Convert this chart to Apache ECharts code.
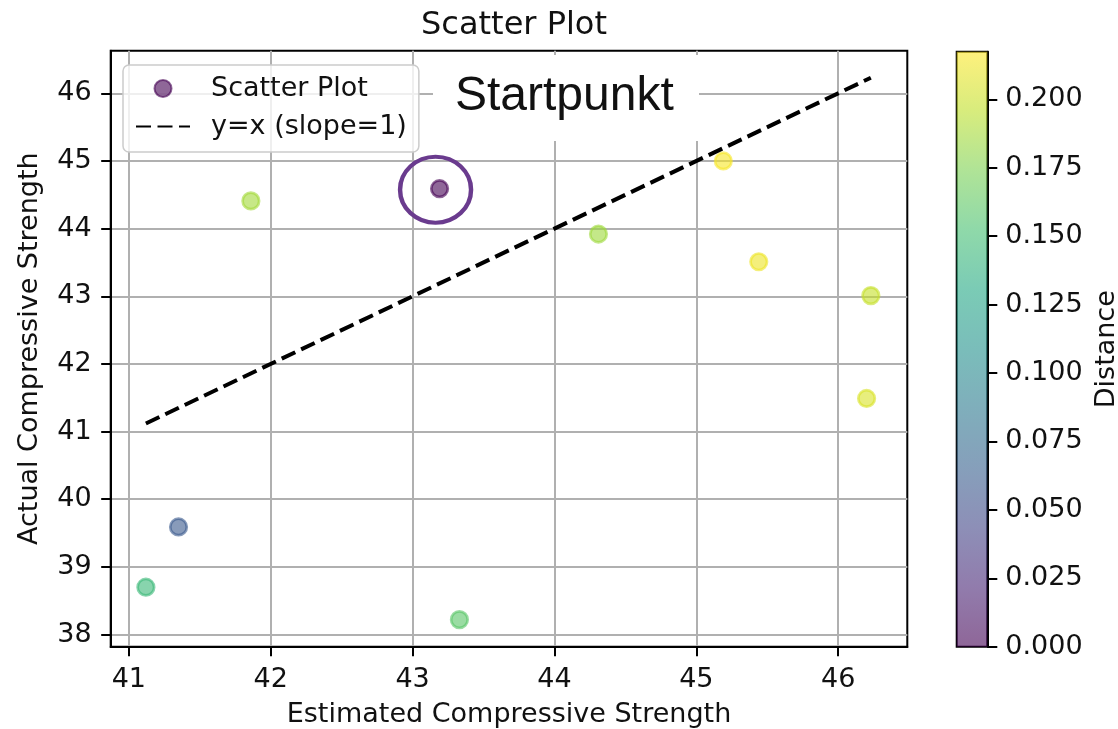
<!DOCTYPE html>
<html><head><meta charset="utf-8">
<script src="https://cdn.jsdelivr.net/npm/echarts@6/dist/echarts.min.js"></script>
<style>html,body{margin:0;padding:0;background:#fff}#c{width:1118px;height:729px}</style>
</head><body><div id="c"></div>
<script>
// ---- data ----
const estimated = [43.19, 41.86, 44.31, 45.19, 45.44, 46.23, 46.20, 41.35, 41.12, 43.33];
const actual    = [44.59, 44.41, 43.92, 45.00, 43.51, 43.01, 41.49, 39.59, 38.70, 38.22];
const distance  = [0.000, 0.187, 0.185, 0.215, 0.212, 0.198, 0.205, 0.060, 0.145, 0.160];
const startIndex = 0;
const xTicks = [41, 42, 43, 44, 45, 46];
const yTicks = [38, 39, 40, 41, 42, 43, 44, 45, 46];
const cbTicks = [0, 0.025, 0.05, 0.075, 0.1, 0.125, 0.15, 0.175, 0.2];
const xRange = [40.872, 46.487];
const yRange = [37.82, 46.63];
const cbRange = [0, 0.2174];
const titleText = 'Scatter Plot';
const xName = 'Estimated Compressive Strength';
const yName = 'Actual Compressive Strength';
const cbName = 'Distance';
const scatterName = 'Scatter Plot';
const lineName = 'y=x (slope=1)';
const noteText = 'Startpunkt';

// ---- viridis colormap ----
const viridis = ['#440154','#482475','#414487','#355f8d','#2a788e','#21918c','#22a884','#44bf70','#7ad151','#bddf26','#fde725'];
function hex2rgb(h){return [parseInt(h.substr(1,2),16),parseInt(h.substr(3,2),16),parseInt(h.substr(5,2),16)];}
function cmap(t){
  t = Math.max(0, Math.min(1, t));
  const p = t * (viridis.length - 1);
  const i = Math.min(Math.floor(p), viridis.length - 2);
  const f = p - i;
  const a = hex2rgb(viridis[i]), b = hex2rgb(viridis[i+1]);
  const c = a.map((v,k)=>Math.round(v + (b[k]-v)*f));
  return 'rgb(' + c.join(',') + ')';
}
const norm = v => (v - cbRange[0]) / (cbRange[1] - cbRange[0]);

const FONT = 'DejaVu Sans';
const TXT = '#111';

const scatterData = estimated.map((x, i) => {
  const col = cmap(norm(distance[i]));
  return { value: [x, actual[i], distance[i]], itemStyle: { color: col, borderColor: col } };
});
const lo = Math.min(...estimated), hi = Math.max(...estimated);
const lineData = [[lo, lo], [hi, hi]];

const chart = echarts.init(document.getElementById('c'), null, { renderer: 'canvas' });
chart.setOption({
  backgroundColor: '#fff',
  animation: false,
  title: {
    text: titleText, left: 509, textAlign: 'center', top: 5, padding: 5,
    textStyle: { fontFamily: FONT, fontSize: 32, fontWeight: 'normal', color: TXT }
  },
  grid: [
    { left: 110.7, top: 50.7, right: 210.7, bottom: 82.3, show: true, borderColor: '#000', borderWidth: 2, backgroundColor: 'transparent', containLabel: false, outerBoundsMode: 'none' },
    { left: 956.7, top: 51.7, width: 30.6, height: 595, show: true, borderColor: '#000', borderWidth: 2, backgroundColor: 'transparent', containLabel: false, outerBoundsMode: 'none' }
  ],
  xAxis: [
    {
      type: 'value', gridIndex: 0, min: xRange[0], max: xRange[1],
      name: xName, nameLocation: 'middle', nameGap: 55,
      nameTextStyle: { fontFamily: FONT, fontSize: 27, color: TXT },
      axisLine: { show: true, onZero: false, lineStyle: { color: '#000', width: 2 } },
      axisTick: { show: true, length: 9.5, customValues: xTicks, lineStyle: { color: '#000', width: 2 } },
      axisLabel: { show: true, customValues: xTicks, margin: 20, fontFamily: FONT, fontSize: 27, color: TXT },
      splitLine: { show: true, lineStyle: { color: '#b0b0b0', width: 2 } }
    },
    { type: 'category', gridIndex: 1, data: ['cb'], show: false, boundaryGap: true }
  ],
  yAxis: [
    {
      type: 'value', gridIndex: 0, min: yRange[0], max: yRange[1],
      name: yName, nameLocation: 'middle', nameGap: 67,
      nameTextStyle: { fontFamily: FONT, fontSize: 27, color: TXT },
      axisLine: { show: true, onZero: false, lineStyle: { color: '#000', width: 2 } },
      axisTick: { show: true, length: 9.5, customValues: yTicks, lineStyle: { color: '#000', width: 2 } },
      axisLabel: { show: true, customValues: yTicks, margin: 19, fontFamily: FONT, fontSize: 27, color: TXT },
      splitLine: { show: true, lineStyle: { color: '#b0b0b0', width: 2 } }
    },
    {
      type: 'value', gridIndex: 1, min: cbRange[0], max: cbRange[1], position: 'right',
      name: cbName, nameLocation: 'middle', nameGap: 106,
      nameTextStyle: { fontFamily: FONT, fontSize: 27, color: TXT },
      axisLine: { show: true, onZero: false, lineStyle: { color: '#000', width: 2 } },
      axisTick: { show: true, length: 10, customValues: cbTicks, lineStyle: { color: '#000', width: 2 } },
      axisLabel: { show: true, customValues: cbTicks, margin: 18, fontFamily: FONT, fontSize: 27, color: TXT,
        formatter: v => Number(v).toFixed(3) },
      splitLine: { show: false }
    }
  ],
  legend: {
    orient: 'vertical', left: 123, top: 65,
    padding: [10, 12, 12, 12], itemGap: 11, itemWidth: 54, itemHeight: 17,
    backgroundColor: 'rgba(255,255,255,0.8)', borderColor: '#cccccc', borderWidth: 1.5, borderRadius: 6,
    textStyle: { fontFamily: FONT, fontSize: 27, color: TXT, padding: [0, 0, 0, 16] },
    data: [
      { name: scatterName, icon: 'circle' },
      { name: lineName, itemStyle: { color: 'rgba(0,0,0,0)', borderWidth: 0, opacity: 0 } }
    ]
  },
  series: [
    {
      name: scatterName, type: 'scatter', xAxisIndex: 0, yAxisIndex: 0,
      symbol: 'circle', symbolSize: 16.5,
      itemStyle: { color: cmap(0), borderColor: cmap(0), borderWidth: 2.7, opacity: 0.6 },
      data: scatterData, z: 3
    },
    {
      name: lineName, type: 'line', xAxisIndex: 0, yAxisIndex: 0,
      symbol: 'none', showSymbol: false, data: lineData,
      lineStyle: { color: '#000', width: 4, type: [15, 6.5] },
      itemStyle: { color: '#000' }, z: 4
    },
    {
      name: 'start-marker', type: 'scatter', xAxisIndex: 0, yAxisIndex: 0, silent: true,
      symbol: 'circle', symbolSize: [71, 66], symbolOffset: [-4, 1],
      itemStyle: { color: 'rgba(0,0,0,0)', borderColor: '#6a3b8e', borderWidth: 4.3, opacity: 1 },
      data: [[estimated[startIndex], actual[startIndex]]], z: 5
    },
    {
      name: 'colorbar', type: 'bar', xAxisIndex: 1, yAxisIndex: 1, silent: true,
      barWidth: '100%',
      itemStyle: {
        opacity: 0.6,
        color: new echarts.graphic.LinearGradient(0, 1, 0, 0,
          viridis.map((c, i) => ({ offset: i / (viridis.length - 1), color: c })))
      },
      data: [cbRange[1]]
    }
  ],
  graphic: [
    { type: 'rect', z: 100, shape: { x: 433, y: 55, width: 266, height: 86 }, style: { fill: '#ffffff' } },
    { type: 'text', z: 101, x: 455, y: 96.5, style: { text: noteText, verticalAlign: 'middle', align: 'left',
        font: '48px "Liberation Sans", Arial, sans-serif', fill: '#111111' } }
  ]
});
</script>
</body></html>
